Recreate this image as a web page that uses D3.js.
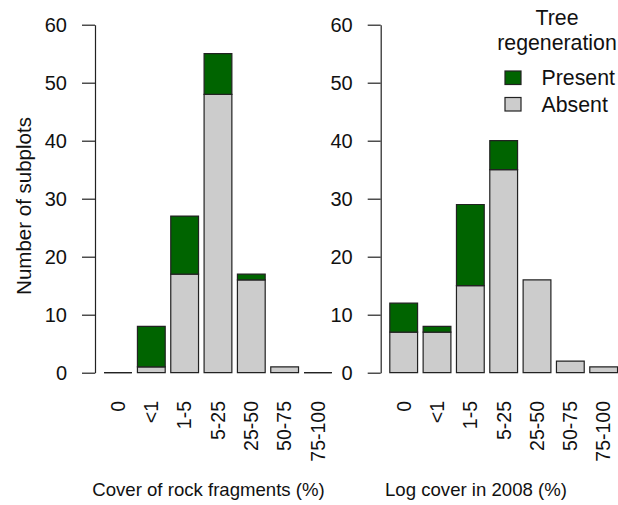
<!DOCTYPE html>
<html>
<head>
<meta charset="utf-8">
<script src="https://cdn.jsdelivr.net/npm/d3@7"></script>
<style>
  body { margin: 0; background: #fff; }
  svg { display: block; font-family: "Liberation Sans", Arial, sans-serif; }
</style>
</head>
<body>
<svg id="chart" width="618" height="505"></svg>
<script>
// categories shared by both panels
const categories = ['0', '<1', '1-5', '5-25', '25-50', '50-75', '75-100'];

// rock fragments panel
const rockAbsent  = [0, 1, 17, 48, 16, 1, 0];
const rockPresent = [0, 7, 10, 7, 1, 0, 0];

// log cover panel
const logAbsent  = [7, 7, 15, 35, 16, 2, 1];
const logPresent = [5, 1, 14, 5, 0, 0, 0];

const yTicks = [0, 10, 20, 30, 40, 50, 60];
const seriesKeys = ['absent', 'present'];
const legendLabels = ['Present', 'Absent'];

const COLORS = {present: '#006400', absent: '#cccccc'};
const STROKE = '#222';

const svg = d3.select('#chart');

const yScale = d3.scaleLinear()
    .domain([0, 60])
    .range([372.7, 24.7]);

function drawPanel(axisX, absent, present, title, titleX) {
    const STEP = 33.33;
    const firstBar = axisX + 9.1;

    const xScale = d3.scaleBand()
        .domain(categories)
        .range([firstBar - STEP / 12, firstBar - STEP / 12 + categories.length * STEP])
        .paddingInner(1 / 6)
        .paddingOuter(1 / 12);

    const rows = categories.map((c, i) => ({cat: c, absent: absent[i], present: present[i]}));
    const stacked = d3.stack().keys(seriesKeys)(rows);

    const g = svg.append('g');

    // bars as paths so zero height ones still show as a line
    stacked.forEach(layer => {
        g.append('g')
            .selectAll('path')
            .data(layer.filter(d => d[1] > d[0] || d[1] === 0))
            .join('path')
            .attr('d', d => {
                const x0 = xScale(d.data.cat), x1 = x0 + xScale.bandwidth();
                const y0 = yScale(d[0]), y1 = yScale(d[1]);
                return `M${x0},${y0}H${x1}V${y1}H${x0}Z`;
            })
            .attr('fill', COLORS[layer.key])
            .attr('stroke', STROKE)
            .attr('stroke-width', 1.2);
    });

    // y axis
    const yAxis = d3.axisLeft(yScale)
        .tickValues(yTicks)
        .tickSize(13)
        .tickSizeOuter(0)
        .tickPadding(15);

    const ax = g.append('g')
        .attr('transform', `translate(${axisX},0)`)
        .call(yAxis);
    ax.select('.domain').attr('stroke', STROKE).attr('stroke-width', 1.2);
    ax.selectAll('.tick line').attr('stroke', STROKE).attr('stroke-width', 1.2);
    ax.selectAll('.tick text')
        .attr('fill', '#111')
        .style('font-size', '20px')
        .style('font-family', '"Liberation Sans", Arial, sans-serif');

    // category labels, rotated
    g.append('g')
        .selectAll('text')
        .data(categories)
        .join('text')
        .attr('transform', d => `translate(${xScale(d) + xScale.bandwidth() / 2},401) rotate(-90)`)
        .attr('text-anchor', 'end')
        .attr('dy', '0.35em')
        .attr('fill', '#111')
        .style('font-size', '19.5px')
        .text(d => d);

    // x title
    g.append('text')
        .attr('x', titleX)
        .attr('y', 496)
        .attr('text-anchor', 'middle')
        .attr('fill', '#111')
        .style('font-size', '18.6px')
        .text(title);
}

drawPanel(95, rockAbsent, rockPresent, 'Cover of rock fragments (%)', 208.5);
drawPanel(380.7, logAbsent, logPresent, 'Log cover in 2008 (%)', 476);

// y title
svg.append('text')
    .attr('transform', 'translate(31,206) rotate(-90)')
    .attr('text-anchor', 'middle')
    .attr('fill', '#111')
    .style('font-size', '20.5px')
    .text('Number of subplots');

// legend
const legend = svg.append('g');
legend.selectAll('text.title')
    .data(['Tree', 'regeneration'])
    .join('text')
    .attr('class', 'title')
    .attr('x', 557)
    .attr('y', (d, i) => 25 + i * 25)
    .attr('text-anchor', 'middle')
    .attr('fill', '#111')
    .style('font-size', '21.3px')
    .text(d => d);

const items = legend.selectAll('g.item')
    .data(legendLabels)
    .join('g')
    .attr('class', 'item')
    .attr('transform', (d, i) => `translate(505,${71 + i * 26.5})`);

items.append('rect')
    .attr('width', 16)
    .attr('height', 13.5)
    .attr('fill', d => d === 'Present' ? COLORS.present : COLORS.absent)
    .attr('stroke', STROKE)
    .attr('stroke-width', 1.2);

items.append('text')
    .attr('x', 36.5)
    .attr('y', 14)
    .attr('fill', '#111')
    .style('font-size', '21.3px')
    .text(d => d);
</script>
</body>
</html>
